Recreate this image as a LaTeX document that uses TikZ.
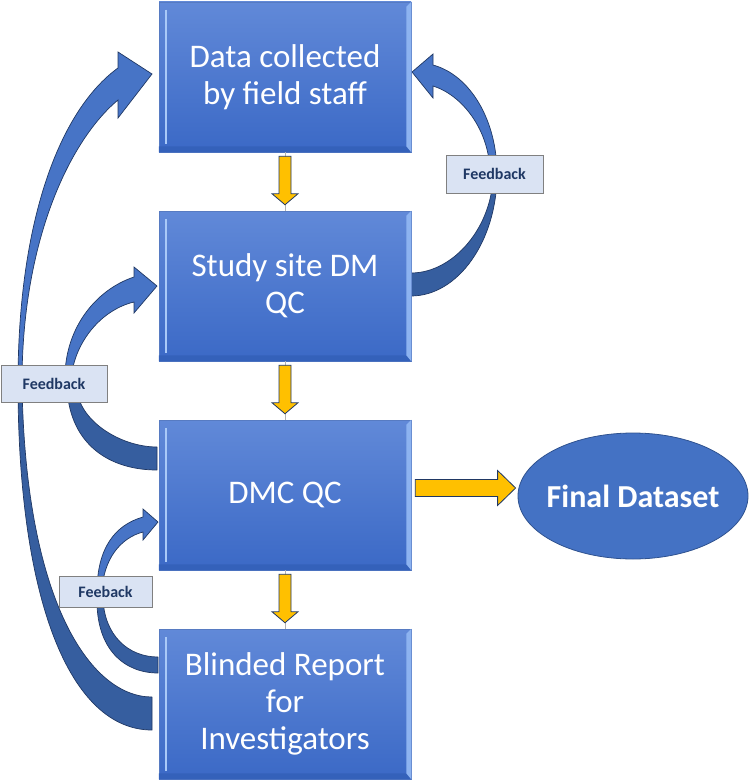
\documentclass[tikz,border=0pt]{standalone}
\usepackage{fontspec}
\setmainfont{Carlito}
\usetikzlibrary{calc,shapes.geometric}
\definecolor{boxtop}{HTML}{6189D8}
\definecolor{boxbot}{HTML}{3B69C6}
\definecolor{bevdark}{HTML}{3461BA}
\definecolor{bevright}{HTML}{8DB3F0}
\definecolor{bevline}{HTML}{A9C9F8}
\definecolor{arrlight}{HTML}{4774C6}
\definecolor{arrdark}{HTML}{365E9F}
\definecolor{arredge}{HTML}{203864}
\definecolor{lblfill}{HTML}{DAE3F3}
\definecolor{lbltext}{HTML}{1F3864}
\definecolor{yel}{HTML}{FFC000}
\definecolor{ellfill}{HTML}{4472C4}
\definecolor{elledge}{HTML}{2F528F}
\tikzset{
  procbox/.style={rectangle, minimum width=252pt, minimum height=150pt, inner sep=0pt,
    top color=boxtop, bottom color=boxbot, draw=boxtop!90!black, line width=0.5pt,
    text=white, align=center, font=\fontsize{33}{37}\selectfont},
  fblabel/.style={rectangle, fill=lblfill, draw=gray, line width=0.8pt, inner sep=0pt,
    text=lbltext, font=\fontsize{16}{18}\selectfont\bfseries},
  lowpart/.style={fill=arrdark, draw=arredge, line width=0.7pt, line join=round},
  uppart/.style={fill=arrlight, draw=arredge, line width=0.7pt, line join=miter},
  yarrow/.style={fill=yel, draw=arredge, line width=0.8pt, line join=miter},
  hidline/.style={draw=gray!60, line width=0.6pt}
}
\newcommand{\bevel}[1]{%
  \fill[bevdark] ($(#1.south west)+(0,-6)$) -- ($(#1.south east)+(-4,-6)$) -- (#1.south east) -- (#1.south west) -- cycle;
  \fill[bevright] ($(#1.north east)+(-5,5)$) -- (#1.north east) -- (#1.south east) -- ($(#1.south east)+(-5,-6)$) -- cycle;
  \draw[bevline, line width=2.5pt] ($(#1.north west)+(7,8)$) -- ($(#1.south west)+(7,-8)$);
}
\begin{document}
\begin{tikzpicture}[x=1pt,y=-1pt]
\useasboundingbox (0,0) rectangle (750,781);

% curved feedback arrows
% A: Study site -> Data collected (right)
\path[lowpart] (411,296) .. controls (458,296) and (497,241) .. (497,174) -- (493,174) .. controls (493,226) and (454,273) .. (411,273) -- cycle;
\path[uppart] (497,174) .. controls (497,120) and (470,75) .. (433,65) -- (433,54) -- (412,72) -- (433,98) -- (433,86) .. controls (462,95) and (490,130) .. (490,174) -- cycle;
% B: Blinded report -> Data collected (left, big)
\path[lowpart] (18,383) .. controls (18,600) and (70,730) .. (152,730) -- (152,697) .. controls (90,697) and (25,600) .. (22,383) -- cycle;
\path[uppart] (18,383) .. controls (18,220) and (60,110) .. (118,68) -- (118,52) -- (152,74) -- (118,118) -- (118,100) .. controls (70,140) and (22,240) .. (22,383) -- cycle;
% C: DMC QC -> Study site
\path[lowpart] (67,388) .. controls (70,445) and (110,470) .. (157,470) -- (157,447) .. controls (120,447) and (78,420) .. (77,388) -- cycle;
\path[uppart] (65,383) .. controls (63,330) and (95,290) .. (134,277) -- (134,267) -- (157,286) -- (134,313) -- (134,302) .. controls (100,310) and (72,345) .. (71,383) -- cycle;
% D: Blinded report -> DMC QC
\path[lowpart] (97,598) .. controls (96,650) and (125,673) .. (158,673) -- (158,657) .. controls (128,657) and (104,635) .. (103,598) -- cycle;
\path[uppart] (97,592) .. controls (97,548) and (115,525) .. (143,517) -- (143,509) -- (158,522) -- (143,540) -- (143,532) .. controls (120,538) and (103,560) .. (102,592) -- cycle;

% process boxes
\node[procbox] (b1) at (285,77) {Data collected\\by field staff};
\node[procbox] (b2) at (285,286) {Study site DM\\QC};
\node[procbox] (b3) at (285,495) {DMC QC};
\node[procbox] (b4) at (285,704) {Blinded Report\\for\\Investigators};
\bevel{b1}\bevel{b2}\bevel{b3}\bevel{b4}

\node[ellipse, minimum width=230pt, minimum height=126pt, inner sep=0pt, fill=ellfill, draw=elledge, line width=0.8pt,
  text=white, font=\fontsize{32}{34}\selectfont\bfseries] (fd) at (633,496) {\makebox[0pt]{Final Dataset}};

% hidden connectors
\draw[hidline] (b1.south) -- (b2.north);
\draw[hidline] (b2.south) -- (b3.north);
\draw[hidline] (b3.south) -- (b4.north);

% yellow block arrows
\foreach \a/\b in {b1/b2, b2/b3, b3/b4}{
  \draw[yarrow] let \p1=($(\a.south)+(0,4)$), \p2=($(\b.north)+(0,-6)$) in
    (\x1-6pt,\y1) -- (\x1+6pt,\y1) -- (\x1+6pt,\y2+11pt) -- (\x1+13pt,\y2+11pt) -- (\x1,\y2)
    -- (\x1-13pt,\y2+11pt) -- (\x1-6pt,\y2+11pt) -- cycle;
}
\draw[yarrow] let \p1=($(b3.east)+(4,-7)$), \p2=($(fd.west)+(-2,0)$) in
  (\x1,\y1-8.5pt) -- (\x2-18pt,\y1-8.5pt) -- (\x2-18pt,\y1-17.5pt) -- (\x2,\y1) -- (\x2-18pt,\y1+17.5pt)
  -- (\x2-18pt,\y1+8.5pt) -- (\x1,\y1+8.5pt) -- cycle;

% feedback labels
\node[fblabel, minimum width=97pt, minimum height=38pt] (l1) at (494.5,174) {Feedback};
\node[fblabel, minimum width=106pt, minimum height=37pt] (l2) at (54,383.5) {Feedback};
\node[fblabel, minimum width=93pt, minimum height=31pt] (l3) at (105.5,591.5) {Feeback};
\end{tikzpicture}
\end{document}
